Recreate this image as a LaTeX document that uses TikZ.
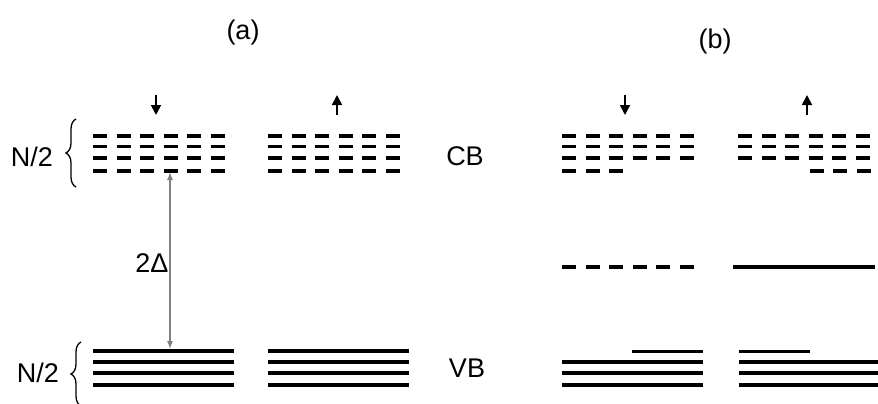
\documentclass[tikz,border=0pt]{standalone}
\usepackage{fontspec}
\setmainfont{Liberation Sans}
\usetikzlibrary{arrows.meta,decorations.pathreplacing}
\begin{document}
\begin{tikzpicture}[x=1pt,y=-1pt,
  lvl/.style={line width=3.7pt},
  dlvl/.style={line width=3.7pt, dash pattern=on 14pt off 9.6pt},
  spin/.style={line width=1.8pt, -{Triangle[length=10pt,width=10pt]}},
  lbl/.style={font=\fontsize{27}{32}\selectfont, inner sep=0pt},
  gapar/.style={gray, line width=1.3pt, {Latex[length=8pt,width=6pt]}-{Latex[length=8pt,width=6pt]}},
  brc/.style={line width=1.3pt, decorate, decoration={brace,amplitude=10pt}}]
\useasboundingbox (0,0) rectangle (878,404);

% panel titles
\node[lbl] (ta) at (243,33) {(a)};
\node[lbl] (tb) at (715,42) {(b)};

% band labels
\node[lbl] (cb) at (465,156) {CB};
\node[lbl] (vb) at (467,368) {VB};
\node[lbl] (n1) at (32,157) {N/2};
\node[lbl] (n2) at (38,373) {N/2};

% braces
\draw[brc] (76,187) -- (76,119);
\draw[brc] (81,406) -- (81,342);

% spin arrows
\coordinate (s1a) at (156,95);  \coordinate (s1b) at (156,115);
\coordinate (s2a) at (337,115); \coordinate (s2b) at (337,95);
\coordinate (s3a) at (625,95);  \coordinate (s3b) at (625,115);
\coordinate (s4a) at (807,115); \coordinate (s4b) at (807,95);
\draw[spin] (s1a) -- (s1b);
\draw[spin] (s2a) -- (s2b);
\draw[spin] (s3a) -- (s3b);
\draw[spin] (s4a) -- (s4b);

% (a) conduction band, spin down and spin up
\foreach \y in {136,146.5,158,170.7} {
  \draw[dlvl] (93,\y) -- (225,\y);
  \draw[dlvl] (268,\y) -- (402,\y);
}
% (a) valence band
\foreach \y in {351,362,373.3,385.3} {
  \draw[lvl] (93,\y) -- (234,\y);
  \draw[lvl] (268,\y) -- (409,\y);
}

% gap
\coordinate (gtop) at (170,172);
\coordinate (gbot) at (170,349);
\draw[gapar] (gtop) -- (gbot);
\node[lbl] (gl) at (152,263) {2Δ};

% (b) conduction band
\foreach \y in {136,146.5,158} {
  \draw[dlvl] (562,\y) -- (695,\y);
  \draw[dlvl] (738,\y) -- (872,\y);
}
\draw[dlvl] (562,170.7) -- (623.2,170.7);
\draw[dlvl] (809.6,170.7) -- (872,170.7);

% (b) in-gap states
\draw[dlvl] (562,267) -- (695,267);
\draw[lvl] (733,267) -- (875,267);

% (b) valence band
\draw[lvl] (632,351.5) -- (703,351.5);
\draw[lvl] (739,351.5) -- (810,351.5);
\foreach \y in {362,373.3,385.3} {
  \draw[lvl] (562,\y) -- (703,\y);
  \draw[lvl] (739,\y) -- (880,\y);
}
\end{tikzpicture}
\end{document}
